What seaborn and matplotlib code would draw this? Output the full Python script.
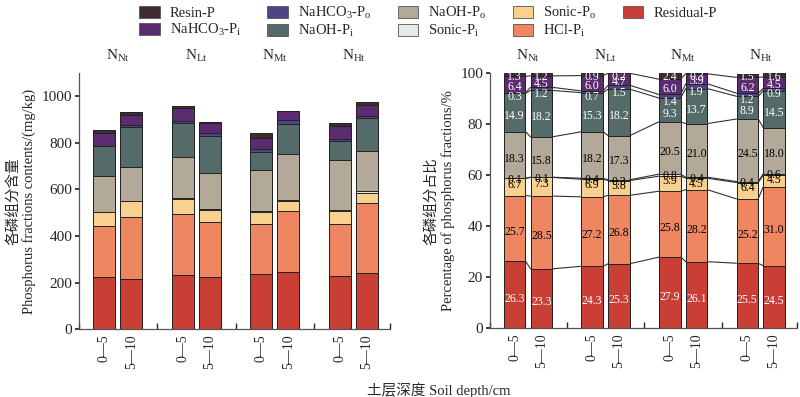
import numpy as np
import pandas as pd
import seaborn as sns
import matplotlib.pyplot as plt
from matplotlib.patches import Patch
from matplotlib.transforms import blended_transform_factory

sns.set_theme(style="ticks")
plt.rcParams['font.family'] = ['Liberation Serif', 'Noto Sans CJK SC']
plt.rcParams['mathtext.fontset'] = 'custom'
plt.rcParams['mathtext.rm'] = 'Liberation Serif'
plt.rcParams['mathtext.it'] = 'Liberation Serif:italic'
plt.rcParams['axes.edgecolor'] = '#555555'
plt.rcParams['axes.linewidth'] = 0.9

### Data
groups = ['Nt', 'Lt', 'Mt', 'Ht']
group_labels = [r'N$_{\rm Nt}$', r'N$_{\rm Lt}$', r'N$_{\rm Mt}$', r'N$_{\rm Ht}$']
depths = ['0—5', '5—10']

# fractions, bottom -> top of the stack
fractions = ['Residual-P', 'HCl-Pi', 'Sonic-Po', 'Sonic-Pi', 'NaOH-Po',
             'NaOH-Pi', 'NaHCO3-Po', 'NaHCO3-Pi', 'Resin-P']
legend_labels = ['Residual-P', r'HCl-P$_{\rm i}$', r'Sonic-P$_{\rm o}$', r'Sonic-P$_{\rm i}$',
                 r'NaOH-P$_{\rm o}$', r'NaOH-P$_{\rm i}$', r'NaHCO$_3$-P$_{\rm o}$',
                 r'NaHCO$_3$-P$_{\rm i}$', 'Resin-P']
colors = ['#C93F35', '#EF8662', '#FAD08E', '#E4EAE8', '#B3A998',
          '#556B69', '#4D4585', '#5B2C6F', '#3E2B33']
label_colors = ['white', 'black', 'black', 'black', 'black',
                'white', 'white', 'white', 'white']

# total P (mg/kg) per bar: Nt 0-5, Nt 5-10, Lt 0-5, ...
totals = [854, 930, 960, 887, 843, 938, 887, 976]

# percentage of each fraction per bar (same order as fractions)
pct_nt_0 = [26.3, 25.7, 6.7, 0.1, 18.3, 14.9, 0.3, 6.4, 1.3]
pct_nt_1 = [23.3, 28.5, 7.3, 0.1, 15.8, 18.2, 1.2, 4.5, 1.2]
pct_lt_0 = [24.3, 27.2, 6.9, 0.4, 18.2, 15.3, 0.7, 6.0, 0.9]
pct_lt_1 = [25.3, 26.8, 5.8, 0.3, 17.3, 18.2, 1.5, 4.7, 0.2]
pct_mt_0 = [27.9, 25.8, 5.9, 0.8, 20.5, 9.3, 1.4, 6.0, 2.4]
pct_mt_1 = [26.1, 28.2, 4.5, 0.4, 21.0, 13.7, 1.9, 3.9, 0.3]
pct_ht_0 = [25.5, 25.2, 6.4, 0.4, 24.5, 8.9, 1.2, 6.2, 1.5]
pct_ht_1 = [24.5, 31.0, 4.5, 0.6, 18.0, 14.5, 0.9, 4.5, 1.6]

pct = np.array([pct_nt_0, pct_nt_1, pct_lt_0, pct_lt_1,
                pct_mt_0, pct_mt_1, pct_ht_0, pct_ht_1])
absval = pct / 100 * np.array(totals)[:, None]

bar_group = np.repeat(groups, 2)
bar_depth = np.tile(depths, 4)


def stacked(ax, values):
    cum = np.cumsum(values, axis=1)
    # draw from top layer down so lower layers overdraw the upper ones
    for k in range(len(fractions) - 1, -1, -1):
        df = pd.DataFrame({'group': bar_group, 'depth': bar_depth, 'val': cum[:, k]})
        sns.barplot(data=df, x='group', y='val', hue='depth', order=groups,
                    hue_order=depths, palette={d: colors[k] for d in depths},
                    saturation=1, width=0.69, gap=0.19, errorbar=None, legend=False,
                    edgecolor='#222222', linewidth=0.7, ax=ax)
    bars = sorted(ax.patches[:8], key=lambda p: p.get_x())
    return cum, bars


def style_axis(ax):
    sns.despine(ax=ax)
    ax.set_xlim(-0.49, 3.47)
    ax.set_xlabel('')
    ax.tick_params(axis='y', direction='out', length=3, labelsize=11, pad=2)
    ax.tick_params(axis='x', which='major', length=0, labelsize=10, pad=4)
    ax.set_xticks([-0.49, 0.5, 1.5, 2.5, 3.47], minor=True)
    ax.tick_params(axis='x', which='minor', direction='in', length=4)
    trans = blended_transform_factory(ax.transData, ax.transAxes)
    for i, lab in enumerate(group_labels):
        ax.text(i, 1.035, lab, transform=trans, ha='center', va='bottom', fontsize=11)


fig = plt.figure(figsize=(8, 3.97), dpi=100)
ax1 = fig.add_axes([0.099, 0.171, 0.389, 0.645])
ax2 = fig.add_axes([0.6125, 0.173, 0.384, 0.643])

### Left: contents
cum1, bars1 = stacked(ax1, absval)
style_axis(ax1)
centers = [b.get_x() + b.get_width() / 2 for b in bars1]
ax1.set_xticks(centers, bar_depth, rotation=90)
ax1.set_ylim(0, 1100)
ax1.set_yticks(range(0, 1001, 200))
ax1.set_ylabel('各磷组分含量\nPhosphorus fractions contents/(mg/kg)', fontsize=10.5, labelpad=4)

### Right: percentages
cum2, bars2 = stacked(ax2, pct)
style_axis(ax2)
ax2.set_xticks(centers, bar_depth, rotation=90)
ax2.set_ylim(0, 100)
ax2.set_yticks(range(0, 101, 20))
ax2.set_ylabel('各磷组分占比\nPercentage of phosphorus fractions/%', fontsize=10.5, labelpad=4)

# lines joining the layer boundaries of neighbouring bars
for i in range(len(bars2) - 1):
    xa = bars2[i].get_x() + bars2[i].get_width()
    xb = bars2[i + 1].get_x()
    for k in range(len(fractions) - 1):
        ax2.plot([xa, xb], [cum2[i, k], cum2[i + 1, k]], color='#333333', lw=0.8, zorder=5)

# value labels
for i, b in enumerate(bars2):
    xc = b.get_x() + b.get_width() / 2
    c = cum2[i]
    bottoms = np.concatenate([[0], c[:-1]])
    ys = (bottoms + c) / 2 - 1.5
    ys[2] = c[3] - 2.6          # Sonic-Po
    ys[3] = c[3] - 0.7          # Sonic-Pi
    ys[6] = bottoms[6] - 1.5    # NaHCO3-Po sits just below its band
    ys[7] = (bottoms[7] + c[7]) / 2 - 1.0
    ys[8] = 98.3
    for k in range(len(fractions)):
        ax2.text(xc, ys[k], f'{pct[i, k]:.1f}', ha='center', va='center',
                 fontsize=8.5, color=label_colors[k], zorder=6)

### Legend (top, 2 rows)
leg_order = list(range(len(fractions) - 1, -1, -1))
handles = [Patch(facecolor=colors[k], edgecolor='#555555', linewidth=0.6) for k in leg_order]
fig.legend(handles, [legend_labels[k] for k in leg_order], loc='upper center',
           bbox_to_anchor=(0.535, 1.02), ncol=5, frameon=False, fontsize=10.5,
           handlelength=1.4, handleheight=0.9, handletextpad=0.7,
           columnspacing=1.8, labelspacing=0.1)

fig.text(0.549, 0.018, '土层深度 Soil depth/cm', ha='center', va='center', fontsize=10.5)

fig.savefig('out.png', dpi=100)
